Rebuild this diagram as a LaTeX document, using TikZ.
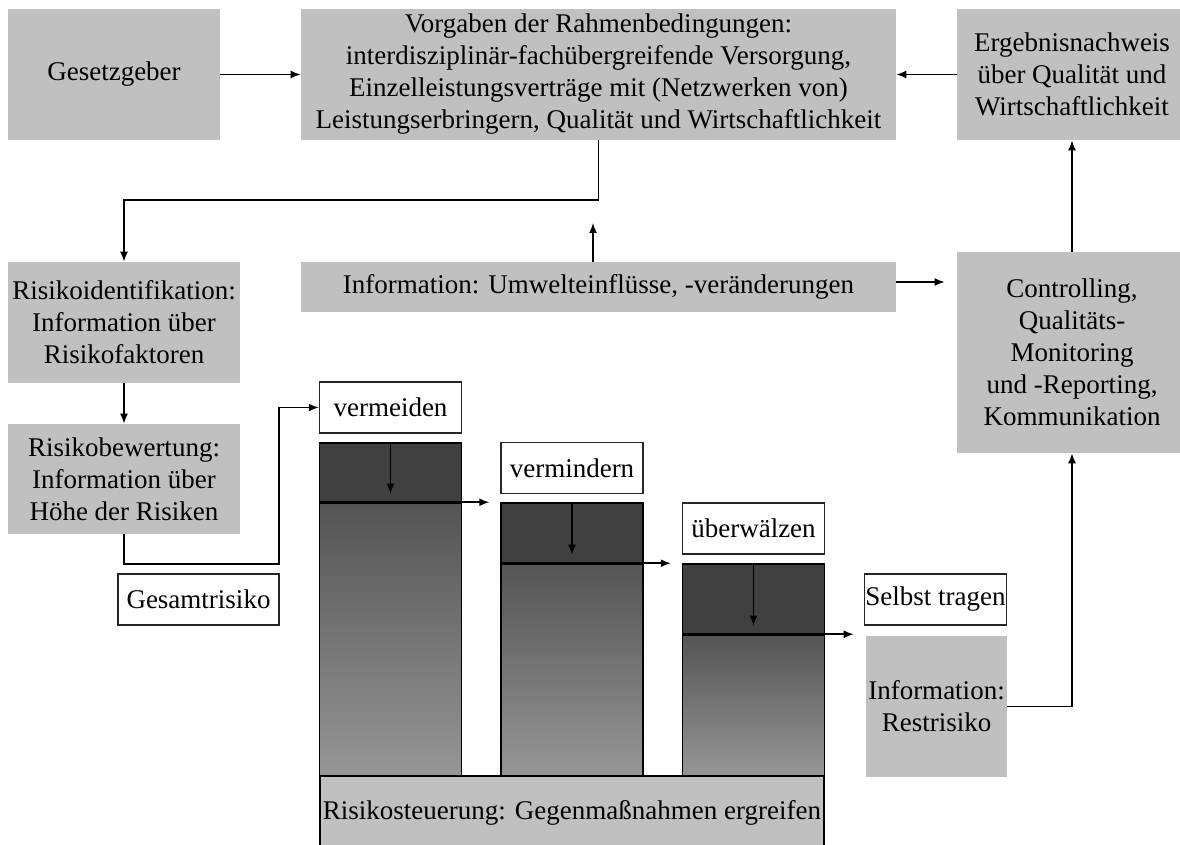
\documentclass[tikz,border=0pt]{standalone}
\usepackage{fontspec}
\setmainfont{Liberation Serif}
\usetikzlibrary{arrows.meta}
\definecolor{kastengrau}{RGB}{192,192,192}
\definecolor{balkendunkel}{RGB}{64,64,64}
\definecolor{balkenoben}{RGB}{84,84,84}
\definecolor{balkenunten}{RGB}{150,150,150}
\begin{document}
\begin{tikzpicture}[x=0.5pt,y=-0.5pt]
    \tikzset{pfeil/.style={-{Latex[length=5pt,width=4pt]},line width=0.75pt},
        kasten/.style={fill=kastengrau,inner sep=0pt,align=center,
        font=\fontsize{13.5}{16}\selectfont},
        wahl/.style={draw=black!85,line width=0.75pt,fill=white,inner
        sep=0pt,minimum width=71pt,minimum height=25.5pt,
        font=\fontsize{13.5}{16}\selectfont},
        balken/.style={draw=black,line width=0.75pt,inner sep=0pt,minimum
        width=71pt}}
    \useasboundingbox (0,0) rectangle (1180,845);
    \clip (0,0) rectangle (1180,845);

    % obere Reihe
    \node[kasten,minimum width=106pt,minimum height=65.5pt] (gesetz)
    at (114,74.5) {Gesetzgeber};
    \node[kasten,minimum width=297.5pt,minimum height=65.5pt] (vorg)
    at (598.5,74.5) {Vorgaben der Rahmenbedingungen:\\
        interdisziplinär-fachübergreifende Versorgung,\\
        Einzelleistungsverträge mit (Netzwerken von)\\
        Leistungserbringern, Qualität und Wirtschaftlichkeit};
    \node[kasten,minimum width=115pt,minimum height=65.5pt] (erg)
    at (1072,74.5) {Ergebnisnachweis\\über Qualität und\\Wirtschaftlichkeit};

    % mittlere Reihe
    \node[kasten,minimum width=116pt,minimum height=60.5pt] (ident)
    at (124,322.5) {Risikoidentifikation:\\Information über\\Risikofaktoren};
    \node[kasten,minimum width=297.5pt,minimum height=25pt] (umwelt)
    at (598.5,287) {Information: Umwelteinflüsse, -veränderungen};
    \node[kasten,minimum width=115pt,minimum height=100.5pt] (ctrl)
    at (1072,352.5) {Controlling,\\Qualitäts-\\Monitoring\\und -Reporting,\\Kommunikation};
    \node[kasten,minimum width=116pt,minimum height=55pt] (bew)
    at (124,479) {Risikobewertung:\\Information über\\Höhe der Risiken};

    % Massnahmen
    \node[wahl] (vermeiden) at (390.5,407.5) {vermeiden};
    \node[wahl,minimum width=80.5pt] (gesamt) at (198.5,599.5) {Gesamtrisiko};
    \node[wahl] (vermindern) at (572,468) {vermindern};
    \node[wahl] (ueberw) at (753.5,528.5) {überwälzen};
    \node[wahl] (selbst) at (935.5,599.5) {Selbst tragen};
    \node[kasten,minimum width=70.5pt,minimum height=70.5pt] (rest)
    at (936.5,706.5) {Information:\\Restrisiko};

    % Balken
    \node[balken,fill=balkendunkel,minimum height=30pt] (b1oben)
    at (390.5,473) {};
    \node[balken,top color=balkenoben,bottom color=balkenunten,minimum
    height=136.5pt] (b1unten) at (390.5,639.5) {};
    \node[balken,fill=balkendunkel,minimum height=30.5pt] (b2oben)
    at (572,533.5) {};
    \node[balken,top color=balkenoben,bottom color=balkenunten,minimum
    height=106pt] (b2unten) at (572,670) {};
    \node[balken,fill=balkendunkel,minimum height=35.5pt] (b3oben)
    at (753.5,599.5) {};
    \node[balken,top color=balkenoben,bottom color=balkenunten,minimum
    height=70.5pt] (b3unten) at (753.5,705.5) {};
    \node[kasten,draw=black,line width=0.75pt,minimum width=252pt,minimum
    height=37pt] (steuer) at (572,813) {Risikosteuerung: Gegenmaßnahmen ergreifen};

    % Verbindungen
    \coordinate (knickA) at (598.5,200);
    \coordinate (umweltpfeil) at (593,223);
    \coordinate (knickB) at (279,564);
    \draw[pfeil] (gesetz) -- (vorg);
    \draw[pfeil] (erg) -- (vorg);
    \draw[pfeil] (vorg.south) -- (knickA) -| (ident.north);
    \draw[pfeil] (umwelt.north -| umweltpfeil) -- (umweltpfeil);
    \draw[pfeil,shorten >=6pt] ([yshift=2.5pt]umwelt.east) --
    ([yshift=2.5pt]umwelt.east -| ctrl.west);
    \draw[pfeil] (ctrl) -- (erg);
    \draw[pfeil] (ident) -- (bew);
    \draw[pfeil] (bew.south) |- (knickB) |- (vermeiden.west);
    \draw[pfeil] (b1oben.north) -- ([yshift=5pt]b1oben.south);
    \draw[pfeil] (b2oben.north) -- ([yshift=5pt]b2oben.south);
    \draw[pfeil] (b3oben.north) -- ([yshift=5pt]b3oben.south);
    \draw[pfeil,shorten >=5.5pt] (b1unten.north west) -- (b2oben.north west);
    \draw[pfeil,shorten >=5.5pt] (b2unten.north west) -- (b3oben.north west);
    \draw[pfeil,shorten >=6pt] (b3unten.north west) --
    (b3unten.north west -| rest.west);
    \draw[pfeil] (rest.east) -| (ctrl.south);
\end{tikzpicture}
\end{document}
